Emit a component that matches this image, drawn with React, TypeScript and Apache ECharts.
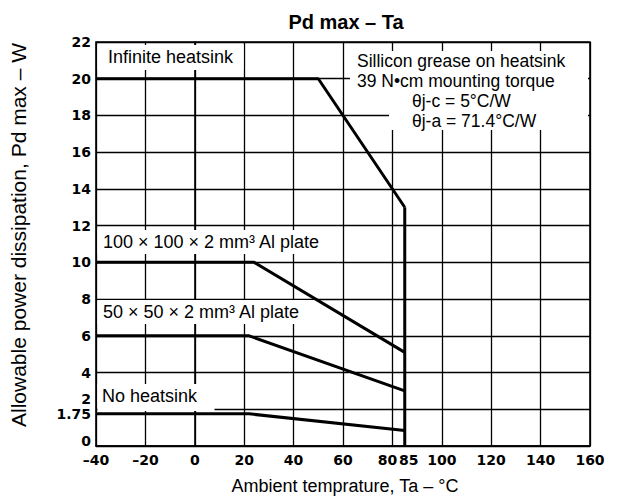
import React, { useEffect, useRef } from "react";
import * as echarts from "echarts";

const tempLabels = [-40, -20, 0, 20, 40, 60, 80, 85, 100, 120, 140, 160];
const powerLabels = [0, 1.75, 2, 4, 6, 8, 10, 12, 14, 16, 18, 20, 22];

const infiniteHeatsink = [[-40, 20], [50, 20], [85, 13]];
const plate100 = [[-40, 10], [24, 10], [85, 5.1]];
const plate50 = [[-40, 6], [22, 6], [85, 3.0]];
const noHeatsink = [[-40, 1.75], [22, 1.75], [85, 0.85]];
const tempLimit = [[85, 0], [85, 13]];

const SANS = "'Liberation Sans', Arial, sans-serif";
const DIGITS = "'DejaVu Sans', sans-serif";

function App() {
  const ref = useRef<HTMLDivElement>(null);
  useEffect(() => {
    const chart = echarts.init(ref.current!, null, { renderer: "svg" });
    const lineSeries = (name: string, data: number[][]) => ({
      name,
      type: "line",
      data,
      showSymbol: false,
      symbol: "none",
      lineStyle: { color: "#000", width: 3 },
      z: 5,
    });
    const box = (x: number, y: number, w: number, h: number) => ({
      type: "rect",
      z: 1,
      shape: { x, y, width: w, height: h },
      style: { fill: "#fff" },
    });
    const txt = (text: string, x: number, y: number, size = 18) => ({
      type: "text",
      z: 2,
      x,
      y,
      style: {
        text,
        font: `${size}px ${SANS}`,
        fill: "#000",
        verticalAlign: "middle",
        align: "left",
      },
    });
    const digitStyle = { fontFamily: DIGITS, fontWeight: "bold", fontSize: 14, color: "#000" };
    chart.setOption({
      animation: false,
      backgroundColor: "#fff",
      title: {
        text: "Pd max – Ta",
        left: 341,
        top: 7,
        textAlign: "center",
        textStyle: { fontFamily: SANS, fontWeight: "bold", fontSize: 20, color: "#000" },
      },
      grid: {
        left: 96,
        right: 28,
        top: 42,
        bottom: 56,
        show: true,
        borderColor: "#000",
        borderWidth: 1.6,
        backgroundColor: "transparent",
      },
      xAxis: {
        type: "value",
        min: -40,
        max: 160,
        interval: 20,
        name: "Ambient temprature, Ta – °C",
        nameLocation: "middle",
        nameGap: 31,
        nameTextStyle: { fontFamily: SANS, fontSize: 18, color: "#000", padding: [0, 0, 0, 4] },
        axisLine: { lineStyle: { color: "#000", width: 1.6 } },
        axisTick: { show: false },
        splitLine: { show: true, lineStyle: { color: "#000", width: 1.3 } },
        axisLabel: {
          customValues: tempLabels,
          margin: 7,
          ...digitStyle,
          formatter: (v: number) => {
            const s = String(v).replace("-", "–");
            if (v === 80) return "{l|" + s + "}";
            if (v === 85) return "{r|" + s + "}";
            return s;
          },
          rich: {
            l: { ...digitStyle, padding: [0, 10, 0, 0] },
            r: { ...digitStyle, padding: [0, 0, 0, 8] },
          },
        },
      },
      yAxis: {
        type: "value",
        min: 0,
        max: 22,
        interval: 2,
        name: "Allowable power dissipation, Pd max – W",
        nameLocation: "middle",
        nameGap: 67,
        nameTextStyle: { fontFamily: SANS, fontSize: 21, color: "#000", padding: [0, 0, 0, 18] },
        axisLine: { show: true, lineStyle: { color: "#000", width: 1.6 } },
        axisTick: { show: false },
        splitLine: { show: true, lineStyle: { color: "#000", width: 1.3 } },
        axisLabel: {
          customValues: powerLabels,
          margin: 5,
          ...digitStyle,
          formatter: (v: number) => (v === 2 ? "{up|2}" : v === 0 ? "{lo|0}" : String(v)),
          rich: {
            up: { ...digitStyle, padding: [0, 0, 20, 0] },
            lo: { ...digitStyle, padding: [0, 0, 10, 0] },
          },
        },
      },
      graphic: [
        box(97.5, 45, 146, 25),
        box(350, 51, 238, 40),
        box(389, 91, 199, 39),
        box(97.5, 230, 238, 24),
        box(97.5, 300, 218, 24),
        box(97.5, 384, 117, 27),
        txt("Infinite heatsink", 108, 57),
        txt("Sillicon grease on heatsink", 357, 61, 17.5),
        txt("39 N•cm mounting torque", 357, 81, 17.5),
        txt("θj-c = 5°C/W", 412, 101, 17.5),
        txt("θj-a = 71.4°C/W", 412, 121, 17.5),
        txt("100 × 100 × 2 mm³ Al plate", 103, 242),
        txt("50 × 50 × 2 mm³ Al plate", 103, 312),
        txt("No heatsink", 102, 396),
      ],
      series: [
        lineSeries("Infinite heatsink", infiniteHeatsink),
        lineSeries("100 × 100 × 2 mm³ Al plate", plate100),
        lineSeries("50 × 50 × 2 mm³ Al plate", plate50),
        lineSeries("No heatsink", noHeatsink),
        lineSeries("Ta limit", tempLimit),
      ],
    });
    return () => chart.dispose();
  }, []);
  return (
    <div
      ref={ref}
      style={{ position: "absolute", left: 0, top: 0, width: 618, height: 502, background: "#fff" }}
    />
  );
}

export default App;
